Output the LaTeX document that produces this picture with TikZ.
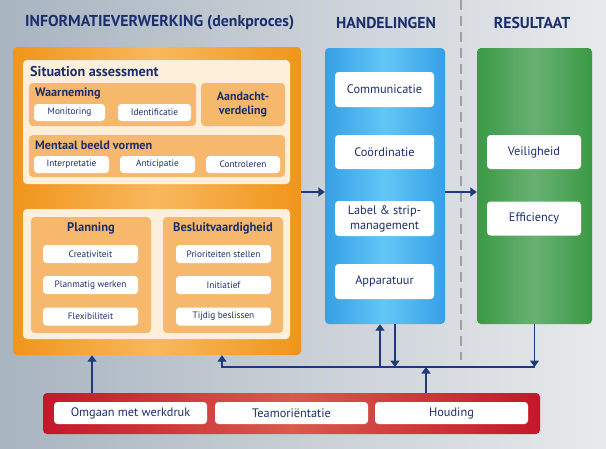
\documentclass[tikz,border=0pt]{standalone}
\usepackage{fontspec}
\setmainfont{PT Sans}
\usetikzlibrary{arrows.meta}
\definecolor{navy}{HTML}{1B2F6E}
\definecolor{arrcol}{HTML}{1F3A7C}
\definecolor{bgL}{HTML}{A8B4C0}
\definecolor{bgR}{HTML}{E8EAEC}
\definecolor{orE}{HTML}{F0951A}
\definecolor{orM}{HTML}{F8B85E}
\definecolor{cream}{HTML}{FDEFDA}
\definecolor{tan}{HTML}{F5B86C}
\definecolor{blE}{HTML}{35A0E6}
\definecolor{blM}{HTML}{62C6F6}
\definecolor{grE}{HTML}{3A9A44}
\definecolor{grM}{HTML}{68B172}
\definecolor{rdE}{HTML}{C3182A}
\definecolor{rdM}{HTML}{DA5A4C}
\tikzset{
  pill/.style={rectangle, rounded corners=3.5pt, fill=white, text=navy, inner sep=0pt, align=center},
  spill/.style={pill, font=\fontsize{9.3}{11}\selectfont},
  bpill/.style={pill, font=\fontsize{12.3}{14}\selectfont},
  subbox/.style={rectangle, rounded corners=4pt, fill=tan, inner sep=0pt},
  panel/.style={rectangle, rounded corners=4pt, fill=cream, inner sep=0pt},
  ttl/.style={text=navy, font=\bfseries, inner sep=0pt},
  hdr/.style={ttl, font=\bfseries\fontsize{15.8}{18}\selectfont},
  sttl/.style={ttl, font=\bfseries\fontsize{12.2}{14}\selectfont},
  arr/.style={draw=arrcol, line width=1.4pt, -{Triangle[width=9pt,length=6.5pt]}},
}
\begin{document}
\begin{tikzpicture}[x=1pt,y=-1pt]
\useasboundingbox (0,0) rectangle (606,448);
\shade[left color=bgL, right color=bgR] (0,0) rectangle (606,448);
% headers
\node[hdr, anchor=west] (h1) at (25,23) {INFORMATIEVERWERKING (denkproces)};
\node[hdr] (h2) at (386,23) {HANDELINGEN};
\node[hdr] (h3) at (532,23) {RESULTAAT};
\coordinate (dtop) at (461,0);
\coordinate (dbot) at (461,360);
\draw[draw=gray!75, line width=2pt, dash pattern=on 10pt off 6pt] (dtop) -- (dbot);
% orange
\node[rectangle, rounded corners=4pt, minimum width=288pt, minimum height=308pt, left color=orE, right color=orE, middle color=orM] (orange) at (157,201) {};
\node[panel, minimum width=267pt, minimum height=124pt] (p1) at (156.5,122) {};
\node[ttl, font=\bfseries\fontsize{14.2}{16}\selectfont, anchor=west] (sa) at (30,72) {Situation assessment};
\node[subbox, minimum width=167pt, minimum height=43pt] (waar) at (112.5,104.5) {};
\node[sttl, anchor=west] (waart) at (35,93) {Waarneming};
\node[spill, minimum width=71pt, minimum height=17pt] (mon) at (69.5,112.5) {Monitoring};
\node[spill, minimum width=73pt, minimum height=17pt] (ide) at (154.5,112.5) {Identificatie};
\node[subbox, minimum width=84pt, minimum height=43pt, font=\bfseries\fontsize{12}{14.5}\selectfont, text=navy, align=center] (aand) at (243,104.5) {Aandacht-\\verdeling};
\node[subbox, minimum width=256pt, minimum height=42pt] (ment) at (157,156) {};
\node[sttl, anchor=west] (mentt) at (35,145) {Mentaal beeld vormen};
\node[spill, minimum width=75pt, minimum height=17pt] (int) at (71.5,164.5) {Interpretatie};
\node[spill, minimum width=75pt, minimum height=17pt] (ant) at (157.5,164.5) {Anticipatie};
\node[spill, minimum width=74pt, minimum height=17pt] (con) at (243,164.5) {Controleren};
\node[panel, minimum width=267pt, minimum height=130pt] (p2) at (156.5,274) {};
\node[subbox, minimum width=120pt, minimum height=116pt] (plan) at (91,275) {};
\node[sttl, font=\bfseries\fontsize{12.5}{14}\selectfont] (plant) at (91,228) {Planning};
\node[spill, minimum width=95pt, minimum height=18pt] (cre) at (90.5,254) {Creativiteit};
\node[spill, minimum width=95pt, minimum height=18pt] (pla) at (90.5,285) {Planmatig werken};
\node[spill, minimum width=95pt, minimum height=18pt] (fle) at (90.5,316.5) {Flexibiliteit};
\node[subbox, minimum width=120pt, minimum height=116pt] (bes) at (223,275) {};
\node[sttl, font=\bfseries\fontsize{12.5}{14}\selectfont] (best) at (223,228) {Besluitvaardigheid};
\node[spill, minimum width=95pt, minimum height=18pt] (pri) at (223.5,254) {Prioriteiten stellen};
\node[spill, minimum width=95pt, minimum height=18pt] (ini) at (223.5,285) {Initiatief};
\node[spill, minimum width=95pt, minimum height=18pt] (tij) at (223.5,316.5) {Tijdig beslissen};
% blue
\node[rectangle, rounded corners=4pt, minimum width=120pt, minimum height=276pt, left color=blE, right color=blE, middle color=blM] (blue) at (385,186) {};
\node[bpill, minimum width=99pt, minimum height=35pt] (com) at (384.5,89.5) {Communicatie};
\node[bpill, minimum width=99pt, minimum height=34pt] (coo) at (384.5,152) {Coördinatie};
\node[bpill, font=\fontsize{12.3}{15}\selectfont, minimum width=99pt, minimum height=35pt] (lab) at (384.5,218.5) {Label \& strip-\\management};
\node[bpill, minimum width=99pt, minimum height=35pt] (app) at (384.5,281.5) {Apparatuur};
% green
\node[rectangle, rounded corners=4pt, minimum width=115pt, minimum height=276pt, left color=grE, right color=grE, middle color=grM] (green) at (534.5,186) {};
\node[bpill, minimum width=94pt, minimum height=34pt] (vei) at (534,152) {Veiligheid};
\node[bpill, minimum width=94pt, minimum height=34pt] (eff) at (534,218.5) {Efficiency};
% red
\node[rectangle, rounded corners=4pt, minimum width=497pt, minimum height=41pt, left color=rdE, right color=rdE, middle color=rdM] (red) at (291.5,413.5) {};
\node[bpill, minimum width=153pt, minimum height=22pt] (omg) at (130.5,413) {Omgaan met werkdruk};
\node[bpill, minimum width=153pt, minimum height=22pt] (tea) at (291.5,413) {Teamoriëntatie};
\node[bpill, minimum width=153pt, minimum height=22pt] (hou) at (451.5,413) {Houding};
% connectors
\coordinate (r1) at (0,192);
\coordinate (bus) at (0,367);
\coordinate (lx) at (222,0);
\coordinate (bx1) at (380,0);
\coordinate (bx2) at (395,0);
\coordinate (hx) at (426,0);
\coordinate (ox) at (92,0);
\draw[arr] (orange.east |- r1) -- (blue.west |- r1);
\draw[arr] (blue.east |- r1) -- (green.west |- r1);
\draw[arr] (green.south) -- (green.south |- bus);
\draw[arr] (blue.south -| bx2) -- (bx2 |- bus);
\draw[arr] (bx1 |- bus) -- (blue.south -| bx1);
\draw[arr] (red.north -| hx) -- (hx |- bus);
\draw[arr] (green.south |- bus) -- (lx |- bus) -- (orange.south -| lx);
\draw[arr] (red.north -| ox) -- (orange.south -| ox);
\end{tikzpicture}
\end{document}
